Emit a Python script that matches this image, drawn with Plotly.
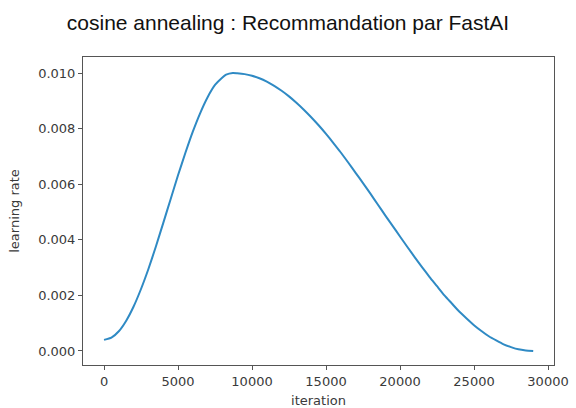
import plotly.graph_objects as go

iterations = [0, 500, 1000, 1500, 2000, 2500, 3000, 3500, 4000, 4500, 5000, 5500,
              6000, 6500, 7000, 7500, 8000, 8250, 8700, 9000, 9500, 10000, 10500,
              11000, 11500, 12000, 12500, 13000, 13500, 14000, 14500, 15000, 15500,
              16000, 16500, 17000, 17500, 18000, 18500, 19000, 19500, 20000, 20500,
              21000, 21500, 22000, 22500, 23000, 23500, 24000, 24500, 25000, 25500,
              26000, 26500, 27000, 27500, 28000, 28500, 29000]
learning_rate = [0.00040, 0.00048, 0.00071, 0.00109, 0.00160, 0.00223, 0.00295,
                 0.00375, 0.00460, 0.00546, 0.00632, 0.00713, 0.00789, 0.00856,
                 0.00913, 0.00957, 0.00984, 0.00994, 0.01000, 0.00999, 0.00996,
                 0.00990, 0.00981, 0.00969, 0.00954, 0.00936, 0.00916, 0.00893,
                 0.00868, 0.00841, 0.00812, 0.00781, 0.00748, 0.00714, 0.00678,
                 0.00641, 0.00604, 0.00566, 0.00527, 0.00488, 0.00450, 0.00412,
                 0.00374, 0.00337, 0.00301, 0.00266, 0.00233, 0.00200, 0.00171,
                 0.00142, 0.00117, 0.00093, 0.00072, 0.00053, 0.00038, 0.00024,
                 0.00014, 0.00006, 0.00002, 0.00000]

y_ticks = [0.000, 0.002, 0.004, 0.006, 0.008, 0.010]
x_ticks = [0, 5000, 10000, 15000, 20000, 25000, 30000]

fig = go.Figure()
fig.add_trace(go.Scatter(x=iterations, y=learning_rate, mode="lines",
                         line=dict(color="#2f8ac4", width=2, shape="spline", smoothing=0.5),
                         showlegend=False, hoverinfo="skip"))

tick_font = dict(family="DejaVu Sans", size=13, color="#3a3a3a")
axis_common = dict(showline=True, linecolor="#555555", linewidth=1, mirror=True,
                   ticks="outside", ticklen=4, tickcolor="#555555", showgrid=False,
                   zeroline=False, tickfont=tick_font, automargin=False)

fig.update_layout(
    width=576, height=408,
    paper_bgcolor="white", plot_bgcolor="white",
    margin=dict(l=83, r=22, t=57, b=43),
    title=dict(text="cosine annealing : Recommandation par FastAI",
               x=0.5, xanchor="center", y=0.945, yanchor="middle",
               font=dict(family="Liberation Sans, Arial", size=21, color="#111111")),
    xaxis=dict(range=[-1420, 30405], tickvals=x_ticks, tickformat="d",
               title=dict(text="iteration",
                          font=dict(family="DejaVu Sans", size=13, color="#3a3a3a")),
               **axis_common),
    yaxis=dict(range=[-0.000504, 0.010576], tickvals=y_ticks, tickformat=".3f",
               title=dict(text="learning rate",
                          font=dict(family="DejaVu Sans", size=13, color="#3a3a3a")),
               **axis_common),
)

fig.write_html("out.html")
